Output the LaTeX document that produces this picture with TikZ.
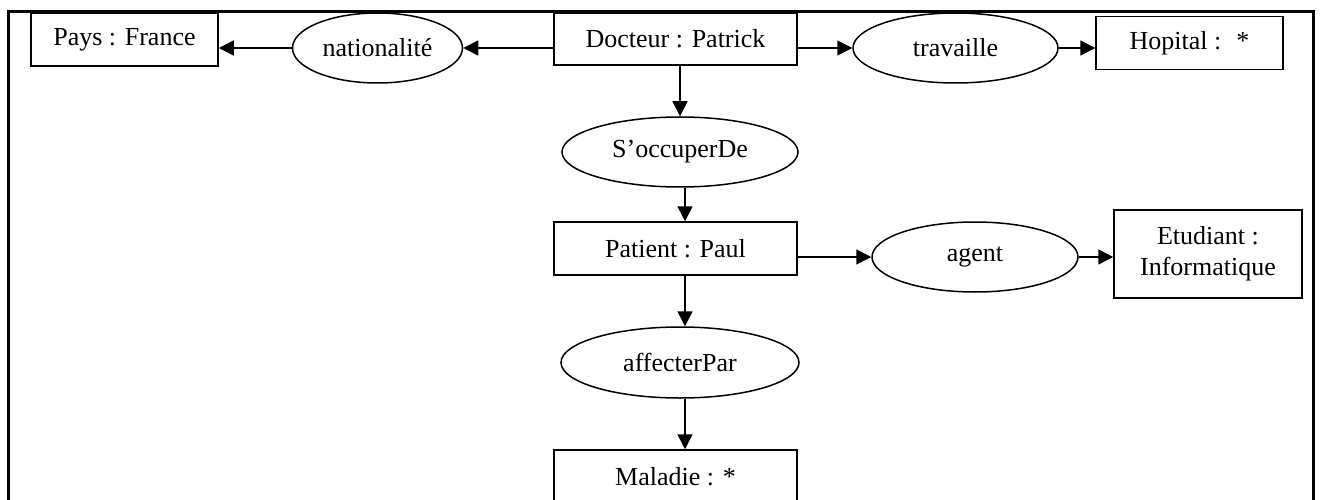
\documentclass[tikz,border=0pt]{standalone}
\usepackage{fontspec}
\setmainfont{Liberation Serif}
\usetikzlibrary{shapes.geometric,arrows.meta}
\begin{document}
\begin{tikzpicture}[x=1pt,y=-1pt,
  concept/.style={draw,line width=1.5pt,rectangle,inner sep=0pt,font=\fontsize{26}{31}\selectfont,align=center},
  relation/.style={draw,line width=1.5pt,ellipse,inner sep=0pt,font=\fontsize{26}{31}\selectfont},
  link/.style={line width=1.5pt,-{Triangle[length=15pt,width=15pt]}}]
\useasboundingbox (0,0) rectangle (1322,500);
% outer frame
\draw[line width=3pt] (8,510) -- (8,12) -- (1313,12) -- (1313,510);
% concepts
\node[concept,minimum width=187pt,minimum height=53pt] (pays) at (124.5,39.5) {Pays : France};
\node[concept,minimum width=243pt,minimum height=52pt] (doc) at (675.5,39) {Docteur : Patrick};
\node[concept,minimum width=187pt,minimum height=53pt] (hop) at (1189.5,43) {Hopital : \ *};
\node[concept,minimum width=243pt,minimum height=53pt] (pat) at (675.5,248.5) {Patient : Paul};
\node[concept,minimum width=188pt,minimum height=88pt] (etu) at (1208,254) {Etudiant :\\Informatique};
\node[concept,minimum width=243pt,minimum height=53pt] (mal) at (675.5,476.5) {Maladie : *};
% relations
\node[relation,minimum width=170pt,minimum height=70pt] (nat) at (377.5,48) {nationalité};
\node[relation,minimum width=205pt,minimum height=70pt] (trav) at (955.5,48) {travaille};
\node[relation,minimum width=236pt,minimum height=70pt] (occ) at (680,152) {S’occuperDe};
\node[relation,minimum width=206pt,minimum height=70pt] (agt) at (975,257) {agent};
\node[relation,minimum width=238pt,minimum height=71pt] (aff) at (680,362.5) {affecterPar};
% connectors
\draw[link] (nat.east -| doc.west) -- (nat.east);
\draw[link] (nat.west) -- (nat.west -| pays.east);
\draw[link] (trav.west -| doc.east) -- (trav.west);
\draw[link] (trav.east) -- (trav.east -| hop.west);
\draw[link] (occ.north |- doc.south) -- (occ.north);
\draw[link] ([xshift=5pt]occ.south) -- ([xshift=5pt]occ.south |- pat.north);
\draw[link] ([xshift=5pt]aff.north |- pat.south) -- ([xshift=5pt]aff.north);
\draw[link] ([xshift=5pt]aff.south) -- ([xshift=5pt]aff.south |- mal.north);
\draw[link] (agt.west -| pat.east) -- (agt.west);
\draw[link] (agt.east) -- (agt.east -| etu.west);
\end{tikzpicture}
\end{document}
